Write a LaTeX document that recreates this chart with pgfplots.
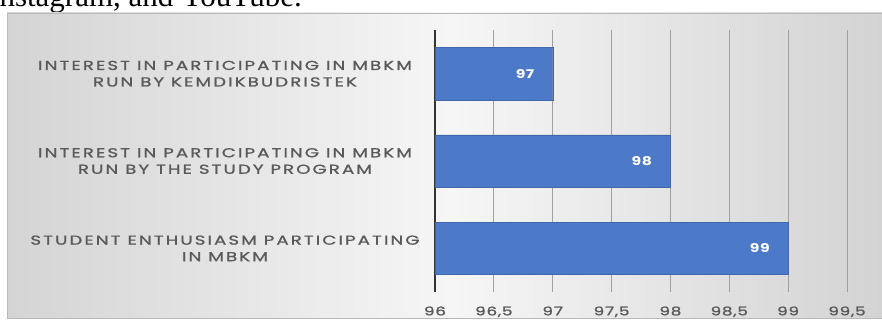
\documentclass[border=0pt]{standalone}
\usepackage{pgfplots}
\pgfplotsset{compat=1.18}
\usepackage{fontspec}
\setmainfont{Liberation Serif}
\newfontfamily\chartfont[FakeStretch=1.4,LetterSpace=16,FakeBold=1.2]{Poppins}
\newfontfamily\tickfont[FakeStretch=1.4,LetterSpace=6,FakeBold=1.3]{Poppins}
\newfontfamily\chartbold[FakeStretch=1.3,LetterSpace=4]{Poppins Bold}
\definecolor{barblue}{RGB}{76,121,200}
\definecolor{labgray}{RGB}{90,90,90}
\definecolor{bgL}{RGB}{212,212,212}
\definecolor{bgM}{RGB}{246,246,246}
\definecolor{bgR}{RGB}{210,210,210}
\begin{document}
\begin{tikzpicture}
\useasboundingbox (0pt,0pt) rectangle (882pt,321pt);
\clip (0pt,0pt) rectangle (882pt,321pt);
% document text cut at the top
\node[anchor=base west, inner sep=0pt, font=\fontsize{31}{34}\selectfont] at (-11pt,314pt) {Instagram, and YouTube.};
% chart background
\shade[left color=bgL, right color=bgR, middle color=bgM, draw=gray!55] (7pt,3pt) rectangle (895pt,308pt);
\coordinate (A) at (435pt,29pt);
\begin{axis}[
  at={(A)}, anchor=south west,
  scale only axis, width=412pt, height=262pt,
  xbar, bar width=0.6,
  xmin=96, xmax=99.5, ymin=-0.5, ymax=2.5,
  axis y line*=left, axis x line*=bottom,
  x axis line style={draw=none},
  y axis line style={draw=black!80, line width=1.6pt},
  xtick={96,96.5,97,97.5,98,98.5,99,99.5},
  xticklabels={96,{96,5},97,{97,5},98,{98,5},99,{99,5}},
  ytick={0,1,2},
  yticklabels={{STUDENT ENTHUSIASM PARTICIPATING\\IN MBKM},
               {INTEREST IN PARTICIPATING IN MBKM\\RUN BY THE STUDY PROGRAM},
               {INTEREST IN PARTICIPATING IN MBKM\\RUN BY KEMDIKBUDRISTEK}},
  major tick length=0pt,
  xmajorgrids, grid style={draw=gray!75, line width=0.9pt},
  xticklabel style={font=\tickfont\fontsize{12}{13}\selectfont, text=labgray, yshift=-11pt},
  yticklabel style={font=\chartfont\fontsize{13}{16.5}\selectfont, text=labgray, align=center, anchor=center, xshift=-210pt},
  /pgf/number format/assume math mode=true,
  nodes near coords,
  nodes near coords style={font=\chartbold\fontsize{12}{13}\selectfont, text=white, anchor=east, xshift=-15pt},
  clip=true,
]
\addplot[fill=barblue, draw=barblue!85!black] coordinates {(99,0) (98,1) (97,2)};
\end{axis}
\end{tikzpicture}
\end{document}
